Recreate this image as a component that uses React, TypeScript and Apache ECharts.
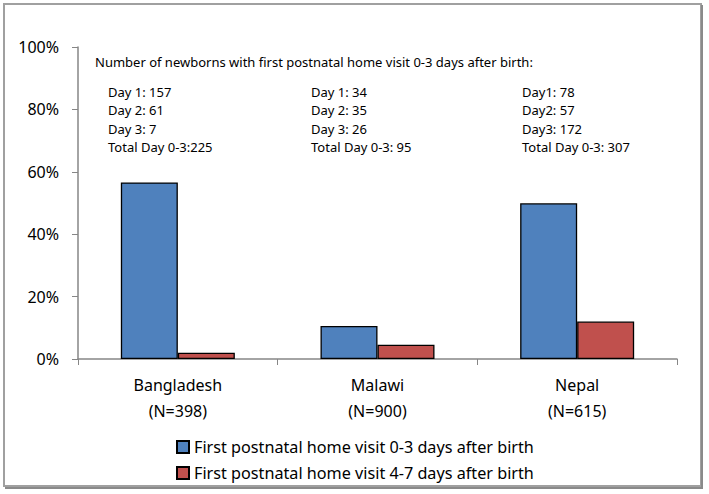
import React, { useEffect, useRef } from "react";
import * as echarts from "echarts";

const categories = ["Bangladesh\n(N=398)", "Malawi\n(N=900)", "Nepal\n(N=615)"];
const seriesNames = [
  "First postnatal home visit 0-3 days after birth",
  "First postnatal home visit 4-7 days after birth",
];
const visit03 = [56.6, 10.6, 49.9];
const visit47 = [2.0, 4.6, 12.0];
const yTickValues = [0, 20, 40, 60, 80, 100];
const noteTitle = "Number of newborns with first postnatal home visit 0-3 days after birth:";
const noteBangladesh = ["Day 1: 157", "Day 2: 61", "Day 3: 7", "Total Day 0-3:225"];
const noteMalawi = ["Day 1: 34", "Day 2: 35", "Day 3: 26", "Total Day 0-3: 95"];
const noteNepal = ["Day1: 78", "Day2: 57", "Day3: 172", "Total Day 0-3: 307"];

const FONT = "'Noto Sans', 'Liberation Sans', Arial, sans-serif";

export default function App() {
  const ref = useRef<HTMLDivElement>(null);
  useEffect(() => {
    if (!ref.current) return;
    const chart = echarts.init(ref.current, undefined, { renderer: "svg" });
    const noteCols: [string[], number][] = [
      [noteBangladesh, 108],
      [noteMalawi, 311],
      [noteNepal, 522],
    ];
    const graphics: any[] = [
      {
        type: "rect",
        shape: { x: 4, y: 4, width: 697, height: 482 },
        style: { fill: "none", stroke: "#a0a0a0", lineWidth: 2 },
        silent: true,
      },
      {
        type: "line",
        shape: { x1: 702, y1: 5, x2: 702, y2: 488 },
        style: { stroke: "#8a8a8a", lineWidth: 2 },
      },
      {
        type: "line",
        shape: { x1: 5, y1: 488, x2: 703, y2: 488 },
        style: { stroke: "#8a8a8a", lineWidth: 2 },
      },
      {
        type: "text",
        x: 95,
        y: 62,
        style: {
          text: noteTitle,
          font: `13px ${FONT}`,
          fill: "#000",
          textVerticalAlign: "middle",
        },
      },
    ];
    noteCols.forEach(([lines, x]) => {
      lines.forEach((t, i) => {
        graphics.push({
          type: "text",
          x,
          y: 92 + i * 18.4,
          style: {
            text: t,
            font: `13px ${FONT}`,
            fill: "#000",
            textVerticalAlign: "middle",
          },
        });
      });
    });

    chart.setOption({
      animation: false,
      backgroundColor: "#fff",
      textStyle: { fontFamily: FONT },
      grid: { left: 78, right: 32, top: 47, bottom: 135, containLabel: false },
      legend: {
        orient: "vertical",
        left: 171,
        top: 434,
        itemWidth: 12,
        itemHeight: 12,
        itemGap: 10,
        icon: "rect",
        textStyle: { fontSize: 16.2, color: "#000", fontFamily: FONT },
        data: seriesNames,
      },
      xAxis: {
        type: "category",
        data: categories,
        axisLine: { lineStyle: { color: "#868686", width: 1.5 } },
        axisTick: { show: true, length: 6, lineStyle: { color: "#868686" } },
        axisLabel: {
          interval: 0,
          fontSize: 16,
          lineHeight: 26,
          margin: 13,
          color: "#000",
          fontFamily: FONT,
        },
      },
      yAxis: {
        type: "value",
        min: 0,
        max: 100,
        interval: 20,
        splitLine: { show: false },
        axisLine: { show: true, lineStyle: { color: "#868686", width: 1.5 } },
        axisTick: { show: true, length: 6, lineStyle: { color: "#868686" } },
        axisLabel: {
          formatter: (v: number) => (yTickValues.includes(v) ? `${v}%` : ""),
          fontSize: 16,
          margin: 19,
          color: "#000",
          fontFamily: FONT,
        },
      },
      series: [
        {
          name: seriesNames[0],
          type: "bar",
          data: visit03,
          barWidth: 57,
          barGap: "0%",
          itemStyle: { color: "#4F81BD", borderColor: "#000", borderWidth: 1.3 },
        },
        {
          name: seriesNames[1],
          type: "bar",
          data: visit47,
          barWidth: 57,
          barGap: "0%",
          itemStyle: { color: "#C0504D", borderColor: "#000", borderWidth: 1.3 },
        },
      ],
      graphic: graphics,
    });
    return () => chart.dispose();
  }, []);
  return (
    <div
      ref={ref}
      style={{ position: "fixed", left: 0, top: 0, width: 709, height: 494 }}
    />
  );
}
